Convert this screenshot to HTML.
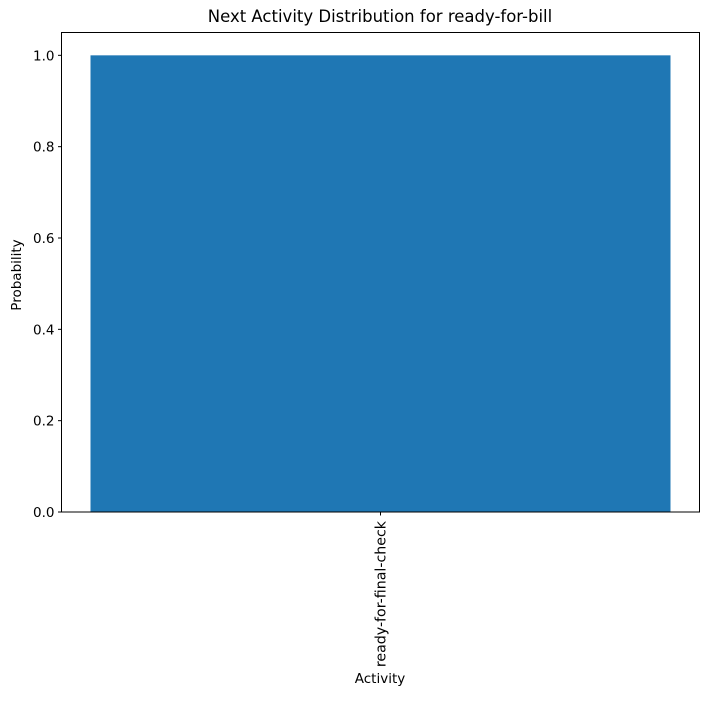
<!DOCTYPE html>
<html><head><meta charset="utf-8"><style>
body{margin:0;background:#fff}
svg text{font-family:"DejaVu Sans","Liberation Sans",sans-serif;fill:#000}
</style></head><body>
<svg id="chart" width="714" height="696" xmlns="http://www.w3.org/2000/svg">
<text x="380" y="22" font-size="16.5" text-anchor="middle">Next Activity Distribution for ready-for-bill</text>
<g id="bars"></g>
<g id="yticks"></g>
<g id="xticks"></g>
<rect x="61.5" y="32.5" width="638" height="479.5" fill="none" stroke="#000" stroke-width="1"/>
<text x="380" y="683" font-size="13.5" text-anchor="middle">Activity</text>
<text transform="translate(21,275) rotate(-90)" font-size="13.5" text-anchor="middle">Probability</text>
</svg>
<script>
const categories = ["ready-for-final-check"];
const values = [1.0];
const yTickValues = [0, 0.2, 0.4, 0.6, 0.8, 1.0];
const yTickLabels = ["0.0", "0.2", "0.4", "0.6", "0.8", "1.0"];

const NS = "http://www.w3.org/2000/svg";
const L = 61.5, R = 699.5, T = 32.5, B = 512;
const yMax = 1.05;
function y(v){ return B - v / yMax * (B - T); }
const n = categories.length;
const xMin = -0.44, xMax = (n - 1) + 0.44;
function x(v){ return L + (v - xMin) / (xMax - xMin) * (R - L); }
const bw = 0.8;

const bars = document.getElementById('bars');
values.forEach((v, i) => {
  const r = document.createElementNS(NS, 'rect');
  r.setAttribute('x', x(i - bw/2));
  r.setAttribute('width', x(i + bw/2) - x(i - bw/2));
  r.setAttribute('y', y(v));
  r.setAttribute('height', y(0) - y(v));
  r.setAttribute('fill', '#1f77b4');
  
  
  bars.appendChild(r);
});

const yt = document.getElementById('yticks');
yTickValues.forEach((v, i) => {
  const yy = y(v);
  const l = document.createElementNS(NS, 'line');
  l.setAttribute('x1', L - 3.5); l.setAttribute('x2', L);
  l.setAttribute('y1', yy); l.setAttribute('y2', yy);
  l.setAttribute('stroke', '#000');
  
  
  yt.appendChild(l);
  const t = document.createElementNS(NS, 'text');
  t.setAttribute('x', L - 7); t.setAttribute('y', yy + 5);
  t.setAttribute('font-size', '13.5'); t.setAttribute('text-anchor', 'end');
  t.textContent = yTickLabels[i];
  
  
  yt.appendChild(t);
});

const xt = document.getElementById('xticks');
categories.forEach((c, i) => {
  const xx = x(i);
  const l = document.createElementNS(NS, 'line');
  l.setAttribute('x1', xx); l.setAttribute('x2', xx);
  l.setAttribute('y1', B); l.setAttribute('y2', B + 3.5);
  l.setAttribute('stroke', '#000');
  
  
  xt.appendChild(l);
  const t = document.createElementNS(NS, 'text');
  t.setAttribute('transform', 'translate(' + (xx + 5) + ',' + (B + 9) + ') rotate(-90)');
  t.setAttribute('font-size', '14.2'); t.setAttribute('text-anchor', 'end');
  t.textContent = c;
  
  
  xt.appendChild(t);
});
</script>
</body></html>
